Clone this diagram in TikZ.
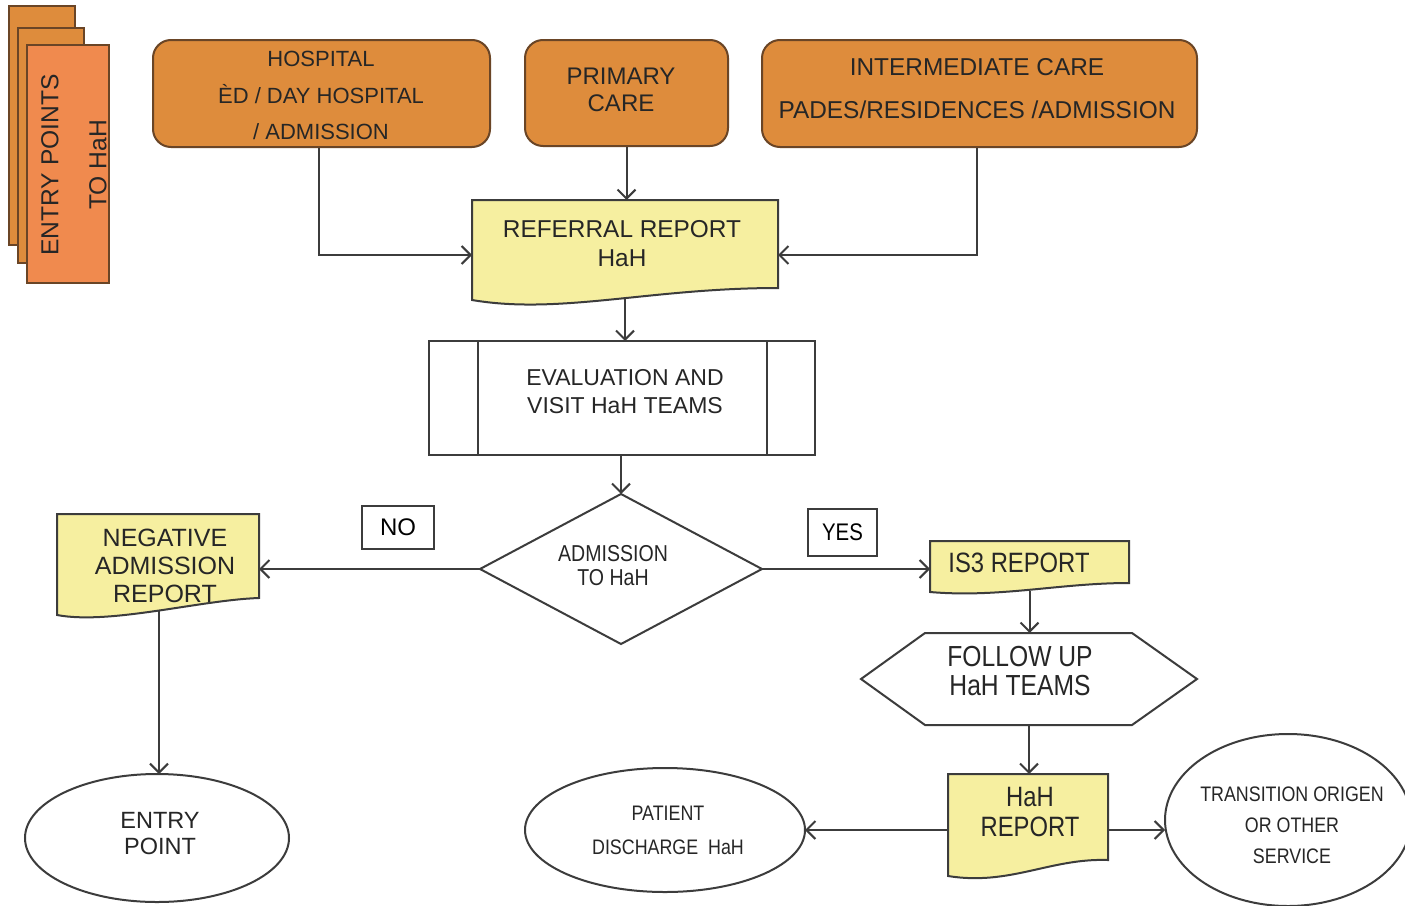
\documentclass[tikz,border=0pt]{standalone}
\usepackage{fontspec}
\setmainfont{Liberation Sans}
\newfontfamily\narrowf[FakeStretch=0.85]{Liberation Sans}
\usetikzlibrary{arrows.meta,shapes.geometric,calc}
\definecolor{boxor}{HTML}{DE8C3C}
\definecolor{orbrd}{HTML}{6A4526}
\definecolor{frontor}{HTML}{F08A4E}
\definecolor{docyel}{HTML}{F6EFA0}
\definecolor{lineg}{HTML}{3C3C3C}
\newcommand\myfs[2]{\fontsize{#1}{#2}\selectfont}
\begin{document}
\begin{tikzpicture}[x=1pt,y=-1pt,
  plain/.style={draw=lineg, line width=2pt},
  arr/.style={draw=lineg, line width=2pt, -{Straight Barb[length=9pt,width=18pt,line width=2pt]}},
  orbox/.style={draw=orbrd, fill=boxor, line width=2pt, rounded corners=18pt, inner sep=0pt},
  stackb/.style={draw=orbrd, line width=2pt, inner sep=0pt},
  shapebox/.style={inner sep=0pt, outer sep=0pt},
  docst/.style={draw=lineg, fill=docyel, line width=2pt},
  txt/.style={align=center, inner sep=0pt, text=black!85},
  tagbox/.style={draw=lineg, line width=1.5pt, inner sep=0pt}]
\useasboundingbox (0,0) rectangle (1405,905);
\clip (0,0) rectangle (1405,905);
\fill[white] (0,0) rectangle (1405,905);

% entry points stack
\node[stackb, fill=boxor, minimum width=66pt, minimum height=239pt] (stk1) at (42,125.5) {};
\node[stackb, fill=boxor, minimum width=66pt, minimum height=235pt] (stk2) at (51,145.5) {};
\node[stackb, fill=frontor, minimum width=82pt, minimum height=238pt] (stk3) at (68,164) {};
\node[txt, rotate=90, font={\myfs{24.6}{48}}] (stkt) at (74,165) {ENTRY POINTS\\TO HaH};

% top boxes
\node[orbox, minimum width=337pt, minimum height=107pt] (hosp) at (321.5,93.5) {};
\node[txt, font={\myfs{22}{36.5}}] (hospt) at (321,95.5) {HOSPITAL\\ÈD / DAY HOSPITAL\\/ ADMISSION};
\node[orbox, minimum width=203pt, minimum height=106pt] (prim) at (626.5,93) {};
\node[txt, font={\myfs{24}{27}}] (primt) at (621,89.5) {PRIMARY\\CARE};
\node[orbox, minimum width=435pt, minimum height=107pt] (inter) at (979.5,93.5) {};
\node[txt, font={\myfs{24.4}{43}}] (intert) at (977,88.5) {INTERMEDIATE CARE\\PADES/RESIDENCES /ADMISSION};

% referral report
\node[shapebox, minimum width=306pt, minimum height=88pt] (ref) at (625,244) {};
\draw[docst] (ref.north west) -- (ref.north east) -- (ref.south east)
  .. controls ($(ref.south east)+(-128,0)$) and ($(ref.south west)+(88,27)$) .. ($(ref.south west)+(0,12)$) -- cycle;
\node[txt, font={\myfs{24.4}{29}}] (reft) at (622,243.5) {REFERRAL REPORT\\HaH};

% evaluation
\node[shapebox, draw=lineg, line width=2pt, minimum width=386pt, minimum height=114pt] (ev) at (622,398) {};
\draw[plain] ($(ev.north west)+(49,0)$) -- ($(ev.south west)+(49,0)$);
\draw[plain] ($(ev.north east)+(-48,0)$) -- ($(ev.south east)+(-48,0)$);
\node[txt, font={\myfs{23}{28}}] (evt) at (625,392) {EVALUATION AND\\VISIT HaH TEAMS};

% decision
\node[shapebox, diamond, draw=lineg, line width=2pt, minimum width=282pt, minimum height=150pt] (dec) at (621,569) {};
\node[txt, font={\narrowf\myfs{23}{24}}] (dect) at (613,566) {ADMISSION\\TO HaH};

% tags
\node[tagbox, minimum width=72pt, minimum height=43pt, font={\myfs{24}{24}}] (no) at (398,527.5) {NO};
\node[tagbox, minimum width=69pt, minimum height=47pt, font={\narrowf\myfs{24}{24}}] (yes) at (842.5,532.5) {YES};

% negative admission report
\node[shapebox, minimum width=202pt, minimum height=84pt] (neg) at (158,556) {};
\draw[docst] (neg.north west) -- (neg.north east) -- (neg.south east)
  .. controls ($(neg.south east)+(-59,2)$) and ($(neg.south west)+(53,27)$) .. ($(neg.south west)+(0,17)$) -- cycle;
\node[txt, font={\myfs{25}{28}}] (negt) at (165,566) {NEGATIVE\\ADMISSION\\REPORT};

% entry point
\node[shapebox, ellipse, draw=lineg, line width=2pt, minimum width=264pt, minimum height=128pt] (entry) at (157,838) {};
\node[txt, font={\myfs{23.5}{26}}] (entryt) at (160,834) {ENTRY\\POINT};

% IS3 report
\node[shapebox, minimum width=199pt, minimum height=42pt] (is3) at (1029.5,562) {};
\draw[docst] (is3.north west) -- (is3.north east) -- (is3.south east)
  .. controls ($(is3.south east)+(-69,0)$) and ($(is3.south west)+(70,15)$) .. ($(is3.south west)+(0,9)$) -- cycle;
\node[txt, font={\narrowf\myfs{28}{28}}] (is3t) at (1019,563) {IS3 REPORT};

% follow up
\node[shapebox, minimum width=336pt, minimum height=92pt] (fu) at (1029,679) {};
\draw[plain] (fu.west) -- ($(fu.north west)+(64,0)$) -- ($(fu.north east)+(-65,0)$) -- (fu.east)
  -- ($(fu.south east)+(-65,0)$) -- ($(fu.south west)+(64,0)$) -- cycle;
\node[txt, font={\narrowf\myfs{29}{29}}] (fut) at (1020,671.5) {FOLLOW UP\\HaH TEAMS};

% HaH report
\node[shapebox, minimum width=160pt, minimum height=86pt] (hr) at (1028,817) {};
\draw[docst] (hr.north west) -- (hr.north east) -- (hr.south east)
  .. controls ($(hr.south east)+(-58,-2)$) and ($(hr.south west)+(62,26)$) .. ($(hr.south west)+(0,16)$) -- cycle;
\node[txt, font={\narrowf\myfs{28}{30}}] (hrt) at (1030,812) {HaH\\REPORT};

% patient discharge
\node[shapebox, ellipse, draw=lineg, line width=2pt, minimum width=280pt, minimum height=124pt] (pd) at (665,830) {};
\node[txt, font={\narrowf\myfs{21}{34}}] (pdt) at (668,830) {PATIENT\\DISCHARGE\ \ HaH};

% transition
\node[shapebox, ellipse, draw=lineg, line width=2pt, minimum width=246pt, minimum height=172pt] (tr) at (1288,820) {};
\node[txt, font={\narrowf\myfs{21}{31}}] (trt) at (1292,825) {TRANSITION ORIGEN\\OR OTHER\\SERVICE};

% connector end points on the wavy edges
\coordinate (refb) at ($(ref.south)+(0,11)$);
\coordinate (negb) at ($(neg.south)+(1,13)$);
\coordinate (is3b) at ($(is3.south)+(0,7.5)$);

% connectors
\draw[arr] ($(hosp.south)+(-2.5,0)$) |- ($(ref.west)+(0,11)$);
\draw[arr] (prim.south) -- (prim.south |- ref.north);
\draw[arr] ($(inter.south)+(-2.5,0)$) |- ($(ref.east)+(0,11)$);
\draw[arr] (refb) -- (refb |- ev.north);
\draw[arr] (dec.north |- ev.south) -- (dec.north);
\draw[arr] (dec.west) -- (dec.west -| neg.east);
\draw[arr] (dec.east) -- (dec.east -| is3.west);
\draw[arr] (negb) -- (negb |- entry.north);
\draw[arr] (is3b) -- (is3b |- fu.north);
\draw[arr] (fu.south) -- (fu.south |- hr.north);
\draw[arr] (pd.east -| hr.west) -- (pd.east);
\draw[arr] (pd.east -| hr.east) -- (pd.east -| tr.west);
\end{tikzpicture}
\end{document}
